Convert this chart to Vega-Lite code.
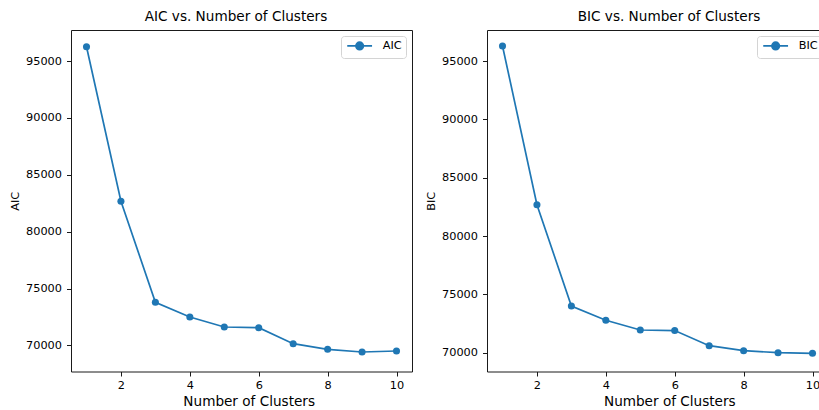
{
  "$schema": "https://vega.github.io/schema/vega-lite/v6.json",
  "padding": {"left": 9, "top": 9, "right": 0, "bottom": 0},
  "background": "white",
  "config": {
    "font": "DejaVu Sans",
    "view": {"stroke": "#1a1a1a", "strokeWidth": 1},
    "axis": {
      "grid": false,
      "domain": false,
      "ticks": true,
      "tickColor": "#1a1a1a",
      "tickSize": 4.5,
      "tickWidth": 1,
      "labelFont": "DejaVu Sans",
      "labelFontSize": 11.3,
      "labelColor": "#000",
      "titleFont": "DejaVu Sans",
      "titleColor": "#000",
      "titleFontWeight": "normal"
    },
    "axisX": {"labelPadding": 3, "titlePadding": 4, "titleFontSize": 13.6},
    "axisY": {"labelPadding": 5, "titlePadding": 5, "titleFontSize": 11.3},
    "title": {"font": "DejaVu Sans", "fontSize": 13.6, "fontWeight": "normal", "color": "#000", "baseline": "alphabetic", "offset": 6.7, "frame": "group"},
    "legend": {
      "orient": "top-right",
      "offset": 6,
      "title": null,
      "strokeColor": "#d4d4d4",
      "fillColor": "white",
      "cornerRadius": 3,
      "padding": 4.25,
      "labelFont": "DejaVu Sans",
      "labelFontSize": 11.3,
      "labelColor": "#000",
      "labelOffset": 17.4,
      "symbolOffset": 8.75,
      "symbolType": "M-3.1,0H3.1M0.93,0A0.93,0.93 0 1,1 -0.93,0A0.93,0.93 0 1,1 0.93,0Z",
      "symbolSize": 64,
      "symbolStrokeWidth": 1.7
    }
  },
  "bounds": "flush",
  "spacing": 75,
  "resolve": {"scale": {"color": "independent", "x": "independent", "y": "independent"}, "legend": {"color": "independent"}},
  "hconcat": [
    {
      "width": 341,
      "height": 341.5,
      "title": {"text": "AIC vs. Number of Clusters", "dx": -5.5},
      "data": {"values": [
        {"k": 1, "value": 96250, "series": "AIC"},
        {"k": 2, "value": 82675, "series": "AIC"},
        {"k": 3, "value": 73797, "series": "AIC"},
        {"k": 4, "value": 72505, "series": "AIC"},
        {"k": 5, "value": 71626, "series": "AIC"},
        {"k": 6, "value": 71565, "series": "AIC"},
        {"k": 7, "value": 70158, "series": "AIC"},
        {"k": 8, "value": 69666, "series": "AIC"},
        {"k": 9, "value": 69429, "series": "AIC"},
        {"k": 10, "value": 69517, "series": "AIC"}
      ]},
      "encoding": {
        "x": {"field": "k", "type": "quantitative", "scale": {"domain": [0.55, 10.45], "nice": false, "zero": false}, "axis": {"values": [2, 4, 6, 8, 10], "title": "Number of Clusters", "titleX": 177.7}},
        "y": {"field": "value", "type": "quantitative", "scale": {"domain": [67715, 97725], "nice": false, "zero": false}, "axis": {"values": [70000, 75000, 80000, 85000, 90000, 95000], "format": "d", "title": "AIC"}},
        "color": {"field": "series", "type": "nominal", "scale": {"domain": ["AIC"], "range": ["#1f77b4"]}, "legend": {"encode": {"symbols": {"update": {"fill": {"value": "#1f77b4"}, "stroke": {"value": "#1f77b4"}, "strokeWidth": {"value": 1.7}, "opacity": {"value": 1}}}}}}
      },
      "layer": [
        {"mark": {"type": "line", "strokeWidth": 1.7}},
        {"mark": {"type": "point", "filled": true, "size": 50, "opacity": 1, "shape": "circle"}}
      ]
    },
    {
      "width": 341,
      "height": 341.5,
      "title": {"text": "BIC vs. Number of Clusters", "dx": 11.5},
      "data": {"values": [
        {"k": 1, "value": 96290, "series": "BIC"},
        {"k": 2, "value": 82684, "series": "BIC"},
        {"k": 3, "value": 74002, "series": "BIC"},
        {"k": 4, "value": 72777, "series": "BIC"},
        {"k": 5, "value": 71945, "series": "BIC"},
        {"k": 6, "value": 71900, "series": "BIC"},
        {"k": 7, "value": 70600, "series": "BIC"},
        {"k": 8, "value": 70171, "series": "BIC"},
        {"k": 9, "value": 70000, "series": "BIC"},
        {"k": 10, "value": 69949, "series": "BIC"}
      ]},
      "encoding": {
        "x": {"field": "k", "type": "quantitative", "scale": {"domain": [0.55, 10.45], "nice": false, "zero": false}, "axis": {"values": [2, 4, 6, 8, 10], "title": "Number of Clusters", "titleX": 182.3}},
        "y": {"field": "value", "type": "quantitative", "scale": {"domain": [68389, 97657], "nice": false, "zero": false}, "axis": {"values": [70000, 75000, 80000, 85000, 90000, 95000], "format": "d", "title": "BIC"}},
        "color": {"field": "series", "type": "nominal", "scale": {"domain": ["BIC"], "range": ["#1f77b4"]}, "legend": {"encode": {"symbols": {"update": {"fill": {"value": "#1f77b4"}, "stroke": {"value": "#1f77b4"}, "strokeWidth": {"value": 1.7}, "opacity": {"value": 1}}}}}}
      },
      "layer": [
        {"mark": {"type": "line", "strokeWidth": 1.7}},
        {"mark": {"type": "point", "filled": true, "size": 50, "opacity": 1, "shape": "circle"}}
      ]
    }
  ]
}
